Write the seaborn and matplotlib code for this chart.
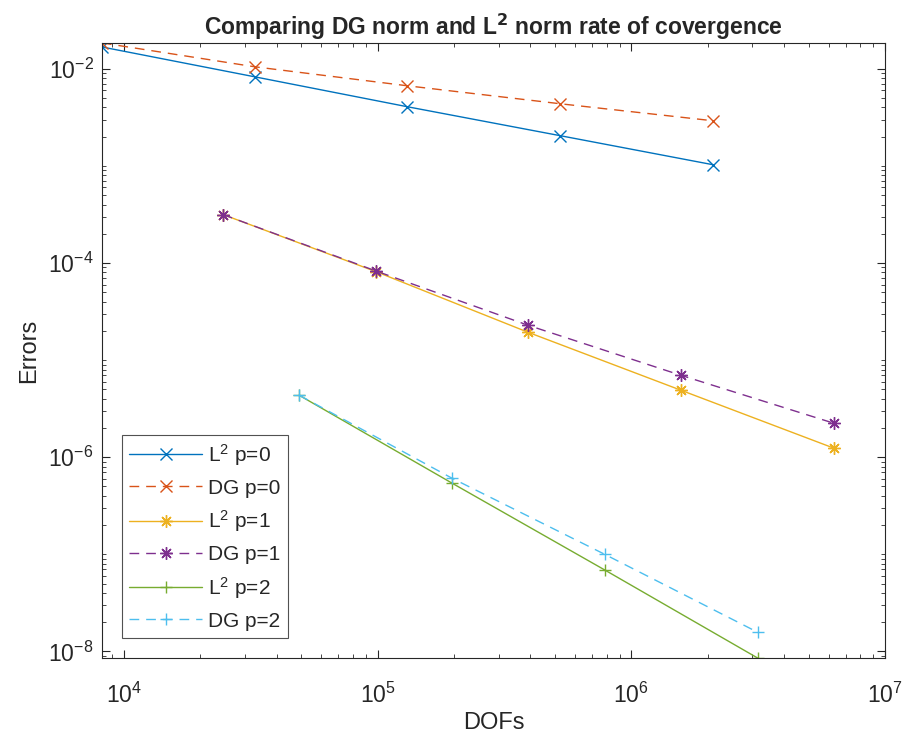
import matplotlib
matplotlib.use("Agg")
import matplotlib.pyplot as plt
import matplotlib.ticker as mticker
import seaborn as sns

# DOFs per refinement level
dofs_p0 = [8192, 32768, 131072, 524288, 2097152]
dofs_p1 = [24576, 98304, 393216, 1572864, 6291456]
dofs_p2 = [49152, 196608, 786432, 3145728]

# errors
l2_p0 = [0.0168, 0.00828, 0.00407, 0.00205, 0.00103]
dg_p0 = [0.0185, 0.0105, 0.00669, 0.00437, 0.00292]
l2_p1 = [3.16e-4, 8.18e-5, 1.93e-5, 4.89e-6, 1.24e-6]
dg_p1 = [3.16e-4, 8.3e-5, 2.28e-5, 6.97e-6, 2.24e-6]
l2_p2 = [4.34e-6, 5.41e-7, 6.9e-8, 8.57e-9]
dg_p2 = [4.34e-6, 6.08e-7, 1.0e-7, 1.58e-8]

y_ticks = [1e-8, 1e-6, 1e-4, 1e-2]
x_ticks = [1e4, 1e5, 1e6, 1e7]

asterisk = (8, 2, 0)
dash = (0, (7, 5))
series = [
    (dofs_p0, l2_p0, r"L$^2$ p=0", "#0072BD", "x", "-"),
    (dofs_p0, dg_p0, "DG p=0", "#D95319", "x", dash),
    (dofs_p1, l2_p1, r"L$^2$ p=1", "#EDB120", asterisk, "-"),
    (dofs_p1, dg_p1, "DG p=1", "#7E2F8E", asterisk, dash),
    (dofs_p2, l2_p2, r"L$^2$ p=2", "#77AC30", "+", "-"),
    (dofs_p2, dg_p2, "DG p=2", "#4DBEEE", "+", dash),
]

sns.set_style("white")
plt.rcParams["font.family"] = ["Liberation Sans", "DejaVu Sans"]
plt.rcParams["mathtext.default"] = "regular"

fig = plt.figure(figsize=(9.1, 7.46), dpi=100)
ax = fig.add_axes([0.112, 0.118, 0.8605, 0.8245])

for x, y, lab, col, mk, ls in series:
    sns.lineplot(
        x=x, y=y, ax=ax, color=col, marker=mk, linestyle=ls,
        markersize=9, markeredgewidth=1.0, linewidth=1.0,
        markeredgecolor=col, label=lab,
    )

ax.set_xscale("log")
ax.set_yscale("log")
ax.set_xlim(8192, 1e7)
all_y = l2_p0 + dg_p0 + l2_p1 + dg_p1 + l2_p2 + dg_p2
ax.set_ylim(min(all_y), max(all_y))

ax.yaxis.set_major_locator(mticker.FixedLocator(y_ticks))
ax.xaxis.set_major_locator(mticker.FixedLocator(x_ticks))
ax.yaxis.set_major_formatter(mticker.LogFormatterSciNotation())
ax.xaxis.set_major_formatter(mticker.LogFormatterSciNotation())
ax.yaxis.set_minor_locator(mticker.LogLocator(base=10, subs=range(1, 10), numticks=30))
ax.xaxis.set_minor_locator(mticker.LogLocator(base=10, subs=range(2, 10), numticks=30))
ax.yaxis.set_minor_formatter(mticker.NullFormatter())
ax.xaxis.set_minor_formatter(mticker.NullFormatter())

for s in ax.spines.values():
    s.set_color("#262626")
    s.set_linewidth(0.8)
ax.tick_params(which="both", direction="in", top=True, right=True,
               bottom=True, left=True,
               colors="#262626", labelsize=16.5, labelcolor="#262626")
ax.tick_params(which="major", length=6)
ax.tick_params(which="minor", length=3)
ax.tick_params(axis="x", pad=18)
ax.tick_params(axis="y", pad=6)

ax.set_xlabel("DOFs", fontsize=17, color="#262626", labelpad=3)
ax.set_ylabel("Errors", fontsize=17, color="#262626", labelpad=6)
ax.set_title(r"Comparing DG norm and L$^\mathbf{2}$ norm rate of covergence",
             fontsize=16.5, fontweight="bold", pad=6)

leg = ax.legend(loc="lower left", bbox_to_anchor=(0.0255, 0.0325), fontsize=15,
                frameon=True, fancybox=False, handlelength=3.5,
                borderpad=0.35, labelspacing=0.52, handletextpad=0.3,
                borderaxespad=0)
leg.get_frame().set_edgecolor("#262626")
leg.get_frame().set_linewidth(0.8)

plt.savefig("out.png", dpi=100)
plt.close()
